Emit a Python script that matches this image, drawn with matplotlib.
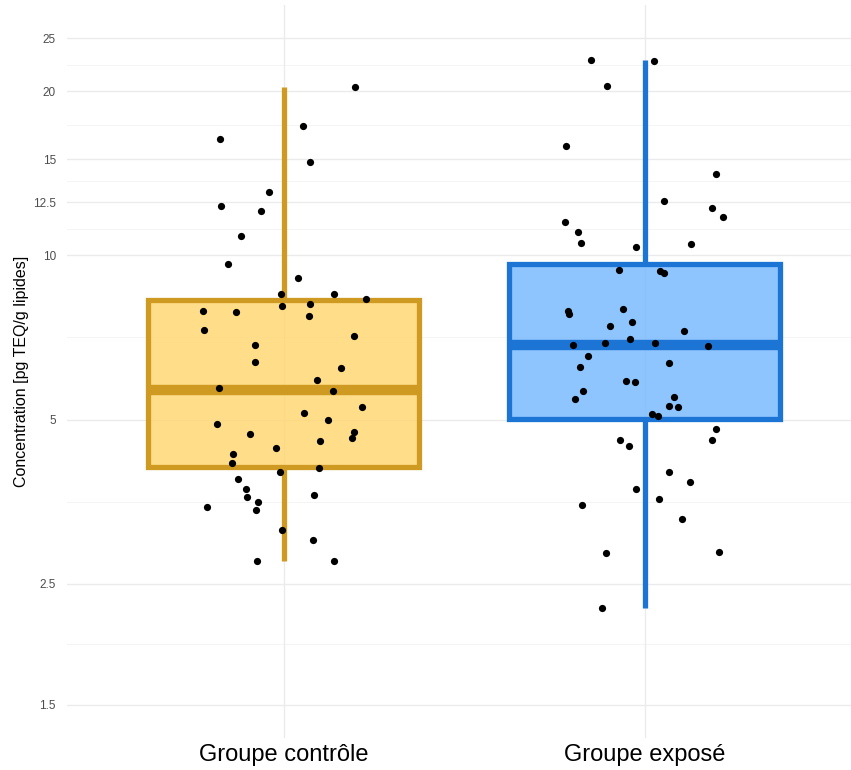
import numpy as np
import matplotlib.pyplot as plt
from matplotlib import cbook

plt.rcParams['font.family'] = ['Liberation Sans', 'DejaVu Sans']

groups = ["Groupe contrôle", "Groupe exposé"]

# concentrations, pg TEQ/g lipides
controle = [20.35, 17.24, 16.34, 14.85, 13.04, 12.31, 12.05, 10.84, 9.63, 9.07,
            8.48, 8.48, 8.32, 8.08, 8.15, 7.90, 7.87, 7.73, 7.30, 7.11,
            6.85, 6.37, 6.22, 5.90, 5.71, 5.63, 5.28, 5.14, 4.91, 4.98,
            4.71, 4.74, 4.63, 4.56, 4.44, 4.32, 4.16, 4.08, 4.01, 3.89,
            3.73, 3.61, 3.53, 3.45, 3.41, 3.63, 3.14, 3.01, 2.75, 2.75]
expose = [22.81, 22.71, 20.44, 15.86, 14.11, 12.60, 12.23, 11.75, 11.49, 11.02,
          10.55, 10.37, 10.47, 9.41, 9.37, 9.29, 7.89, 7.81, 7.98, 7.54,
          7.41, 7.27, 6.84, 6.90, 7.02, 6.90, 6.83, 6.53, 6.25, 6.34,
          5.89, 5.85, 5.65, 5.46, 5.49, 5.29, 5.28, 5.11, 5.07, 4.80,
          4.59, 4.59, 4.47, 4.00, 3.84, 3.73, 3.57, 3.48, 3.28, 2.85,
          2.86, 2.26]

# horizontal jitter of each point
jit_controle = [0.199, 0.053, -0.175, 0.072, -0.041, -0.172, -0.062, -0.117, -0.153, 0.040,
                -0.008, 0.139, 0.228, -0.004, 0.074, -0.222, -0.133, 0.070, -0.220, 0.195,
                -0.080, -0.080, 0.160, 0.093, -0.180, 0.137, 0.217, 0.057, -0.184, 0.122,
                -0.092, 0.196, 0.190, 0.102, -0.020, -0.140, -0.142, 0.099, -0.011, -0.127,
                -0.105, -0.100, -0.070, -0.213, -0.076, 0.083, -0.003, 0.081, -0.073, 0.139]
jit_expose = [-0.149, 0.027, -0.105, -0.217, 0.199, 0.053, 0.188, 0.217, -0.219, -0.184,
              -0.175, -0.023, 0.128, -0.070, 0.043, 0.055, -0.213, -0.209, -0.059, -0.035,
              -0.095, 0.110, -0.197, -0.110, -0.041, 0.028, 0.176, -0.157, -0.179, 0.067,
              -0.051, -0.026, -0.171, -0.193, 0.081, 0.067, 0.093, 0.022, 0.038, 0.198,
              0.188, -0.069, -0.043, 0.067, 0.127, -0.023, 0.041, -0.174, 0.104, -0.108,
              0.205, -0.119]

yticks = [1.5, 2.5, 5, 10, 12.5, 15, 20, 25]
ytick_labels = ["1.5", "2.5", "5", "10", "12.5", "15", "20", "25"]

fills = ["#FFD775", "#7ABBFF"]
edges = ["#CF9A22", "#1C74D4"]

fig = plt.figure(figsize=(8.51, 7.7), dpi=100)
ax = fig.add_axes([67 / 851, 1 - 738 / 770, 784 / 851, 733 / 770])
ax.set_yscale('log')

# box stats on log10 values, like a log-transformed scale
stats = []
for vals in [controle, expose]:
    s = cbook.boxplot_stats(np.log10(vals))[0]
    for k in ['med', 'q1', 'q3', 'whislo', 'whishi']:
        s[k] = 10 ** s[k]
    s['fliers'] = []
    stats.append(s)

bp = ax.bxp(stats, positions=[1, 2], widths=0.75, patch_artist=True,
            showcaps=False, showfliers=False)
for i in range(2):
    box = bp['boxes'][i]
    box.set_facecolor(plt.matplotlib.colors.to_rgba(fills[i], 0.85))
    box.set_edgecolor(edges[i])
    box.set_linewidth(3.8)
    box.set_zorder(2)
    bp['medians'][i].set_color(edges[i])
    bp['medians'][i].set_linewidth(7.5)
    bp['medians'][i].set_solid_capstyle('butt')
    bp['medians'][i].set_zorder(3)
    for w in bp['whiskers'][2 * i:2 * i + 2]:
        w.set_color(edges[i])
        w.set_linewidth(3.8)
        w.set_solid_capstyle('butt')
        w.set_zorder(2)

ax.plot(1 + np.array(jit_controle), controle, 'o', color='black', ms=5.2, mew=0, zorder=4)
ax.plot(2 + np.array(jit_expose), expose, 'o', color='black', ms=5.2, mew=0, zorder=4)

# grid: majors at ticks, minors halfway in log space
lo, hi = 1.5, 25
pad = 0.05 * (np.log10(hi) - np.log10(lo))
ax.set_ylim(10 ** (np.log10(lo) - pad), 10 ** (np.log10(hi) + pad))
ax.set_xlim(0.4, 2.572)
ax.set_yticks(yticks)
ax.set_yticklabels(ytick_labels)
ax.yaxis.set_minor_locator(plt.NullLocator())
for a, b in zip(yticks[:-1], yticks[1:]):
    ax.axhline(np.sqrt(a * b), color='#F2F2F2', lw=0.6, zorder=0)
for t in yticks:
    ax.axhline(t, color='#EBEBEB', lw=1.0, zorder=0)
for p in [1, 2]:
    ax.axvline(p, color='#EBEBEB', lw=1.0, zorder=0)

ax.set_xticks([1, 2])
ax.set_xticklabels(groups, fontsize=17, color='black')
ax.tick_params(axis='both', length=0)
ax.tick_params(axis='y', labelsize=8.5, labelcolor='#4D4D4D', pad=8)
ax.tick_params(axis='x', pad=4)
for s in ax.spines.values():
    s.set_visible(False)
ax.set_ylabel("Concentration [pg TEQ/g lipides]", fontsize=11.5, color='black', labelpad=3)

fig.savefig("out.png", dpi=100)
